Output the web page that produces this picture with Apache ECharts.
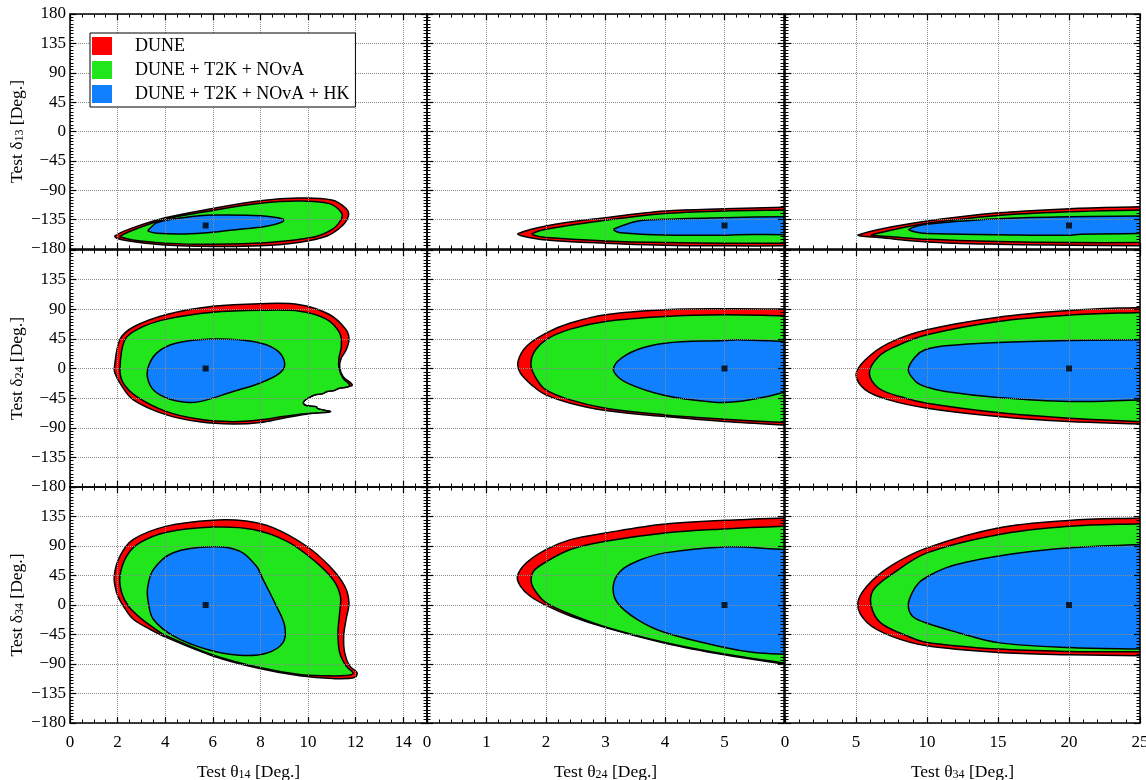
<!DOCTYPE html>
<html><head><meta charset="utf-8">
<script src="https://cdn.jsdelivr.net/npm/echarts@6/dist/echarts.min.js"></script>
<style>html,body{margin:0;padding:0;background:#fff}#c{width:1146px;height:780px}</style>
</head><body><div id="c"></div><script>
// ---------- labels ----------
const seriesNames = ['DUNE', 'DUNE + T2K + NOvA', 'DUNE + T2K + NOvA + HK'];
const seriesColors = ['#ff0000', '#22e61c', '#1080ff'];
const xSubscripts = ['14', '24', '34'];   // Test θ_xx
const ySubscripts = ['13', '24', '34'];   // Test δ_xx
const xMax = [15, 6, 25];
const xInterval = [2, 1, 5];
const xMinorSplit = [4, 5, 5];
const yMin = -180, yMax = 180, yInterval = 45;
// true (best-fit) point for each column / row
const trueTheta = [5.7, 5.0, 20];
const trueDelta = [-144, 0, 0];

// ---------- contours (x = test theta, y = test delta) ----------
// Row 1 : delta13
const r1c1Red = [[1.89,-160],[2.6,-148],[4.0,-132],[6.0,-118],[8.0,-106],[9.6,-102],[11.0,-105],[11.6,-118],[11.7,-129],[11.45,-144],[10.8,-160],[9.6,-170],[8.0,-175],[6.0,-176],[4.0,-174],[2.7,-169],[2.0,-164]];
const r1c1Green = [[2.1,-160.5],[2.8,-149],[4.0,-134.5],[6.0,-121],[8.0,-110],[9.6,-106.5],[10.9,-110.5],[11.4,-124],[11.4,-134],[11.05,-149],[10.2,-162],[8.2,-170.5],[6.0,-172.8],[4.0,-171],[2.7,-166.5],[2.2,-162.5]];
const r1c1Blue = [[3.29,-151],[3.64,-140],[4.34,-134],[5.45,-129],[6.0,-128],[8.0,-129],[8.95,-134],[8.95,-138],[8.25,-145],[6.85,-150.8],[6.0,-154.4],[4.8,-157],[3.65,-156],[3.3,-153]];
const r1c2Red = [[1.53,-156.4],[2.0,-144.7],[3.0,-132],[4.0,-121.8],[5.0,-118.3],[6.0,-116.2],[6.3,-115.5],[6.3,-175.5],[6.0,-175.2],[5.0,-175.2],[4.0,-174.2],[3.0,-171.2],[2.0,-166.1],[1.6,-160]];
const r1c2Green = [[1.77,-156.4],[2.0,-149.8],[3.0,-136],[4.0,-125.8],[5.0,-121.8],[6.0,-120.3],[6.3,-120],[6.3,-171.2],[6.0,-171.2],[5.0,-171.2],[4.0,-170.2],[3.0,-167.6],[2.0,-162.5],[1.8,-159]];
const r1c2Blue = [[3.15,-149],[3.53,-137.5],[4.0,-134.6],[5.0,-132],[6.0,-130.5],[6.3,-130.3],[6.3,-158],[6.0,-158],[5.22,-158],[5.0,-159],[4.0,-158.5],[3.25,-155],[3.15,-152]];
const r1c3Red = [[5.14,-158.5],[6.6,-150],[10,-137.2],[15,-124.5],[20,-118.3],[25,-115.3],[26,-115],[26,-175.3],[25,-175.2],[20,-174.2],[15,-172.7],[10,-169.1],[6.6,-162.5],[5.3,-160]];
const r1c3Green = [[6.08,-158.5],[7.3,-152],[10,-140.7],[15,-128.5],[20,-122.9],[25,-120.3],[26,-120],[26,-170.2],[25,-170.2],[20,-170.2],[15,-168.6],[10,-165.1],[7.3,-161],[6.2,-159.5]];
const r1c3Blue = [[8.73,-149.8],[10,-142.2],[15,-133.6],[20,-130.5],[25,-129.5],[26,-129.4],[26,-156.4],[25,-156.4],[20.8,-157.4],[20,-159],[15,-158],[10,-156.4],[9.1,-153.5]];
// Row 2 : delta24
const r2c1Red = [[1.86,0],[2.1,44],[2.66,63],[4.06,82],[6.0,94.5],[8.0,98.5],[9.65,97],[10.9,82],[11.6,59],[11.72,44],[11.6,28],[11.4,16],[11.33,3],[11.47,-12],[11.86,-25],[11.6,-28.5],[11.3,-30],[11.1,-33.5],[10.8,-35],[10.6,-38.5],[10.3,-40],[10.0,-45],[9.85,-49],[9.8,-53],[9.95,-56.5],[10.35,-58],[10.4,-61],[10.95,-65.5],[10.2,-68],[8.95,-75.5],[8.0,-82],[6.85,-84.3],[5.45,-81],[4.06,-70.5],[2.66,-47.5],[2.1,-22.3],[1.89,-7]];
const r2c1Green = [[2.1,0],[2.31,44],[2.94,61.5],[4.06,75],[6.0,85.3],[8.0,88.3],[9.65,87],[10.77,75],[11.33,54],[11.4,33.5],[11.3,15.7],[11.3,0.5],[11.47,-14.7],[11.75,-25],[11.6,-28.5],[11.3,-30],[11.1,-33.5],[10.8,-35],[10.6,-38.5],[10.3,-40],[10.0,-45],[9.85,-49],[9.8,-53],[9.95,-56.5],[10.35,-58],[10.4,-61],[10.9,-65.5],[10.07,-68],[8.95,-73],[8.0,-78],[6.85,-80.7],[5.45,-77.2],[4.06,-65.5],[2.8,-42.6],[2.24,-22.3]];
const r2c1Blue = [[3.26,-2],[3.64,23.4],[4.48,38.6],[6.0,44.7],[7.7,41],[8.67,28.4],[9.02,8],[8.81,-7],[7.97,-22.3],[6.85,-35],[5.45,-50.3],[4.62,-50.3],[3.78,-40],[3.36,-25]];
const r2c2Red = [[1.53,10.6],[1.67,33.5],[2.0,53.8],[2.41,69],[3.0,81.6],[4.0,89.2],[5.0,90.8],[6.0,90.3],[6.3,90],[6.3,-86.5],[6.0,-85.7],[5.0,-80.6],[4.0,-73],[3.0,-63.9],[2.41,-52.7],[2.0,-40.1],[1.79,-27.4],[1.57,-7.1]];
const r2c2Green = [[1.75,3],[1.79,23.3],[2.0,43.6],[2.41,59.8],[3.0,71.5],[4.0,79.1],[5.0,81.6],[6.0,80.1],[6.3,79.8],[6.3,-82.8],[6.0,-82.2],[5.0,-77.1],[4.0,-70.5],[3.0,-60.3],[2.41,-47.7],[2.0,-32.5],[1.85,-17.2]];
const r2c2Blue = [[3.14,-4.6],[3.2,10.6],[3.53,28.4],[4.0,38.5],[5.0,42.6],[5.22,43.6],[6.0,41.1],[6.3,40],[6.3,-33],[6.0,-36.5],[5.72,-42.6],[5.22,-50.2],[4.83,-51.2],[4.0,-41],[3.37,-22.3]];
const r2c3Red = [[5.0,-9.6],[5.66,13.2],[7.31,38.5],[10,58.8],[15,78],[20,88.2],[25,92.8],[26,93.2],[26,-85],[25,-84.2],[20,-80.6],[15,-73],[10,-60.3],[7.31,-47.7],[5.66,-32.5]];
const r2c3Green = [[5.94,-7.1],[6.6,18.3],[7.78,33.5],[10,51.2],[15,71.5],[20,81.1],[25,85.2],[26,85.6],[26,-81.2],[25,-80.6],[20,-75.6],[15,-67],[10,-52.7],[8.49,-45.1],[6.6,-30]];
const r2c3Blue = [[8.68,-2],[9.2,18.3],[9.86,28.4],[11.3,34.5],[15,39.6],[20,42.6],[25,43.6],[26,43.7],[26,-47.5],[25,-47.7],[20,-50.2],[15,-44.1],[11.3,-35],[9.86,-27.4],[9.2,-19.8]];
// Row 3 : delta34
const r3c1Red = [[1.86,44],[2.1,74.6],[2.66,100],[4.06,120.3],[6.0,129.4],[7.4,128],[8.53,118],[9.93,90],[10.9,59.4],[11.54,29],[11.72,3.6],[11.6,-21.8],[11.5,-47],[11.54,-72.6],[11.75,-93],[12.06,-103],[11.96,-110.7],[11.05,-112.2],[9.65,-108.1],[7.97,-97],[6.0,-77.7],[4.06,-49.7],[3.36,-37],[2.66,-21.8],[2.24,-1.5],[1.96,18.8]];
const r3c1Green = [[2.1,44],[2.38,74.6],[2.94,95],[4.06,111],[6.0,118.8],[7.7,115.2],[9.1,97.5],[10.2,69.5],[11.05,39],[11.36,13.7],[11.33,-11.7],[11.26,-42],[11.33,-72.6],[11.6,-93],[11.89,-104],[11.6,-107.5],[10.77,-108],[9.65,-106.1],[7.97,-95.4],[6.0,-76.1],[4.06,-47.2],[3.5,-34.5],[2.94,-19.3],[2.45,-1.5],[2.17,18.8]];
const r3c1Blue = [[3.26,26],[3.5,54],[4.34,79.7],[6.0,88.8],[7.13,82.2],[7.83,59.4],[8.11,39],[8.67,-1.5],[9.02,-32],[8.95,-57.4],[8.25,-73.6],[7.13,-76.6],[5.73,-67.5],[4.34,-47.2],[3.5,-21.8],[3.29,3.6]];
const r3c2Red = [[1.52,44],[1.57,28.9],[1.73,13.7],[2.0,-0.5],[2.41,-16.7],[3.0,-34.4],[4.0,-58.2],[5.0,-75.9],[6.0,-90.1],[6.3,-94],[6.3,133.2],[6.0,132.7],[5.0,129.1],[4.0,123.5],[3.0,109.9],[2.41,99.7],[2.0,84.6],[1.67,64.3]];
const r3c2Green = [[1.75,36.5],[1.82,21.3],[2.0,3.5],[2.41,-14.2],[3.0,-33.5],[4.0,-57.2],[5.0,-74.9],[6.0,-88.6],[6.3,-92.5],[6.3,120.3],[6.0,120],[5.0,116],[4.0,109.9],[3.0,97.2],[2.41,84.6],[2.02,66.8],[1.79,51.6]];
const r3c2Blue = [[3.13,28.9],[3.2,3.5],[3.53,-21.8],[4.0,-42],[5.0,-64.8],[5.5,-72.4],[6.0,-74.9],[6.3,-75],[6.3,84],[6.0,84.6],[5.0,88.6],[4.0,79.5],[3.53,66.8],[3.25,51.6]];
const r3c3Red = [[5.12,1],[5.78,28.9],[7.43,59.2],[10,87.1],[15,117.5],[20,129],[25,132.7],[26,133.2],[26,-77.7],[25,-77.5],[20,-75.9],[15,-72.4],[10,-62.3],[7.43,-47.1],[5.78,-26.8]];
const r3c3Green = [[6.06,0],[6.25,23.8],[7.66,49.1],[10,79.5],[15,107.3],[20,120],[25,124],[26,124.5],[26,-71.5],[25,-71.4],[20,-70.9],[15,-67.3],[10,-57.2],[8.6,-47.1],[6.72,-26.8]];
const r3c3Blue = [[8.68,0],[8.96,18.8],[9.43,34],[10.14,44.6],[11.32,56.7],[12.74,65.3],[14.93,74.4],[17.45,82],[19.95,87.1],[25,92.2],[26,92.5],[26,-67.5],[25,-67.3],[20,-64.8],[15,-57.4],[12.26,-42.6],[9.86,-26.8],[8.96,-16.7]];

const contours = [
  [[r1c1Red, r1c1Green, r1c1Blue], [r1c2Red, r1c2Green, r1c2Blue], [r1c3Red, r1c3Green, r1c3Blue]],
  [[r2c1Red, r2c1Green, r2c1Blue], [r2c2Red, r2c2Green, r2c2Blue], [r2c3Red, r2c3Green, r2c3Blue]],
  [[r3c1Red, r3c1Green, r3c1Blue], [r3c2Red, r3c2Green, r3c2Blue], [r3c3Red, r3c3Green, r3c3Blue]]
];

// ---------- layout ----------
const FONT = 'Liberation Serif';
const colLeft = [70, 427, 785], colWidth = [357, 357, 355];
const rowTop = [14, 250, 487], rowHeight = [235, 237, 236];

const richName = {
  t: { fontFamily: FONT, fontSize: 17.5, color: '#000' },
  s: { fontFamily: FONT, fontSize: 12, color: '#000', verticalAlign: 'bottom', lineHeight: 12 }
};
const minus = v => String(v).replace('-', '\u2212');

const grids = [], xAxes = [], yAxes = [], series = [];
for (let r = 0; r < 3; r++) {
  for (let c = 0; c < 3; c++) {
    const gi = grids.length;
    grids.push({ left: colLeft[c], top: rowTop[r], width: colWidth[c], height: rowHeight[r], outerBoundsMode: 'none', containLabel: false });
    const base = {
      gridIndex: gi, type: 'value', min: 0, max: xMax[c], interval: xInterval[c], z: 5,
      axisLine: { show: true, onZero: false, lineStyle: { color: '#000', width: 1.5 } },
      axisTick: { show: true, inside: true, length: 6, lineStyle: { color: '#000', width: 1.2 } },
      minorTick: { show: true, splitNumber: xMinorSplit[c], length: 3.5, lineStyle: { color: '#000', width: 1 } }
    };
    const xi = xAxes.length;
    xAxes.push(Object.assign({}, base, {
      position: 'bottom',
      axisLabel: { show: r === 2, showMaxLabel: c === 2, showMinLabel: true, color: '#000', fontFamily: FONT, fontSize: 17, margin: 11 },
      splitLine: { show: true, lineStyle: { color: '#8c8c8c', type: 'dotted', width: 1 } },
      name: r === 2 ? '{t|Test θ}{s|' + xSubscripts[c] + '}{t| [Deg.]}' : '',
      nameLocation: 'middle', nameGap: 40, nameTextStyle: { rich: richName }
    }));
    xAxes.push(Object.assign({}, base, { position: 'top', axisLabel: { show: false }, splitLine: { show: false } }));
    const ybase = {
      gridIndex: gi, type: 'value', min: yMin, max: yMax, interval: yInterval, z: 5,
      axisLine: { show: true, onZero: false, lineStyle: { color: '#000', width: 1.5 } },
      axisTick: { show: true, inside: true, length: 6, lineStyle: { color: '#000', width: 1.2 } },
      minorTick: { show: true, splitNumber: 9, length: 3.5, lineStyle: { color: '#000', width: 1 } }
    };
    const yi = yAxes.length;
    yAxes.push(Object.assign({}, ybase, {
      position: 'left',
      axisLabel: { show: c === 0, showMaxLabel: r === 0, showMinLabel: true, formatter: minus, color: '#000', fontFamily: FONT, fontSize: 17, margin: 4 },
      splitLine: { show: true, lineStyle: { color: '#8c8c8c', type: 'dotted', width: 1 } },
      name: c === 0 ? '{t|Test δ}{s|' + ySubscripts[r] + '}{t| [Deg.]}' : '',
      nameLocation: 'middle', nameRotate: 90, nameGap: 44, nameTextStyle: { rich: richName }
    }));
    yAxes.push(Object.assign({}, ybase, { position: 'right', axisLabel: { show: false }, splitLine: { show: false } }));

    for (let k = 0; k < 3; k++) {
      const poly = contours[r][c][k];
      const fill = seriesColors[k];
      series.push({
        type: 'custom', name: seriesNames[k], xAxisIndex: xi, yAxisIndex: yi,
        clip: true, silent: true, itemStyle: { color: fill },
        data: poly, encode: { x: 0, y: 1 },
        renderItem: (params, api) => {
          if (params.dataIndex !== 0) return null;
          const pts = poly.map(p => api.coord(p));
          return { type: 'polygon', shape: { points: pts, smooth: 0.35 },
                   style: { fill: fill, stroke: '#000', lineWidth: 1.5 } };
        }
      });
    }
    series.push({
      type: 'scatter', xAxisIndex: xi, yAxisIndex: yi, symbol: 'rect', symbolSize: 6, z: 6, silent: true,
      itemStyle: { color: '#000' }, data: [[trueTheta[c], trueDelta[r]]]
    });
  }
}

const chart = echarts.init(document.getElementById('c'), null, { renderer: 'canvas' });
chart.setOption({
  animation: false,
  backgroundColor: '#fff',
  grid: grids, xAxis: xAxes, yAxis: yAxes, series: series,
  legend: {
    data: seriesNames, orient: 'vertical', left: 90, top: 33, z: 10,
    itemWidth: 20, itemHeight: 18, itemGap: 6, icon: 'rect', selectedMode: false,
    borderColor: '#000', borderWidth: 1, backgroundColor: '#fff', padding: [4, 6, 4, 2],
    textStyle: { fontFamily: FONT, fontSize: 18, color: '#000', padding: [0, 0, 0, 18] }
  }
});
</script></body></html>
